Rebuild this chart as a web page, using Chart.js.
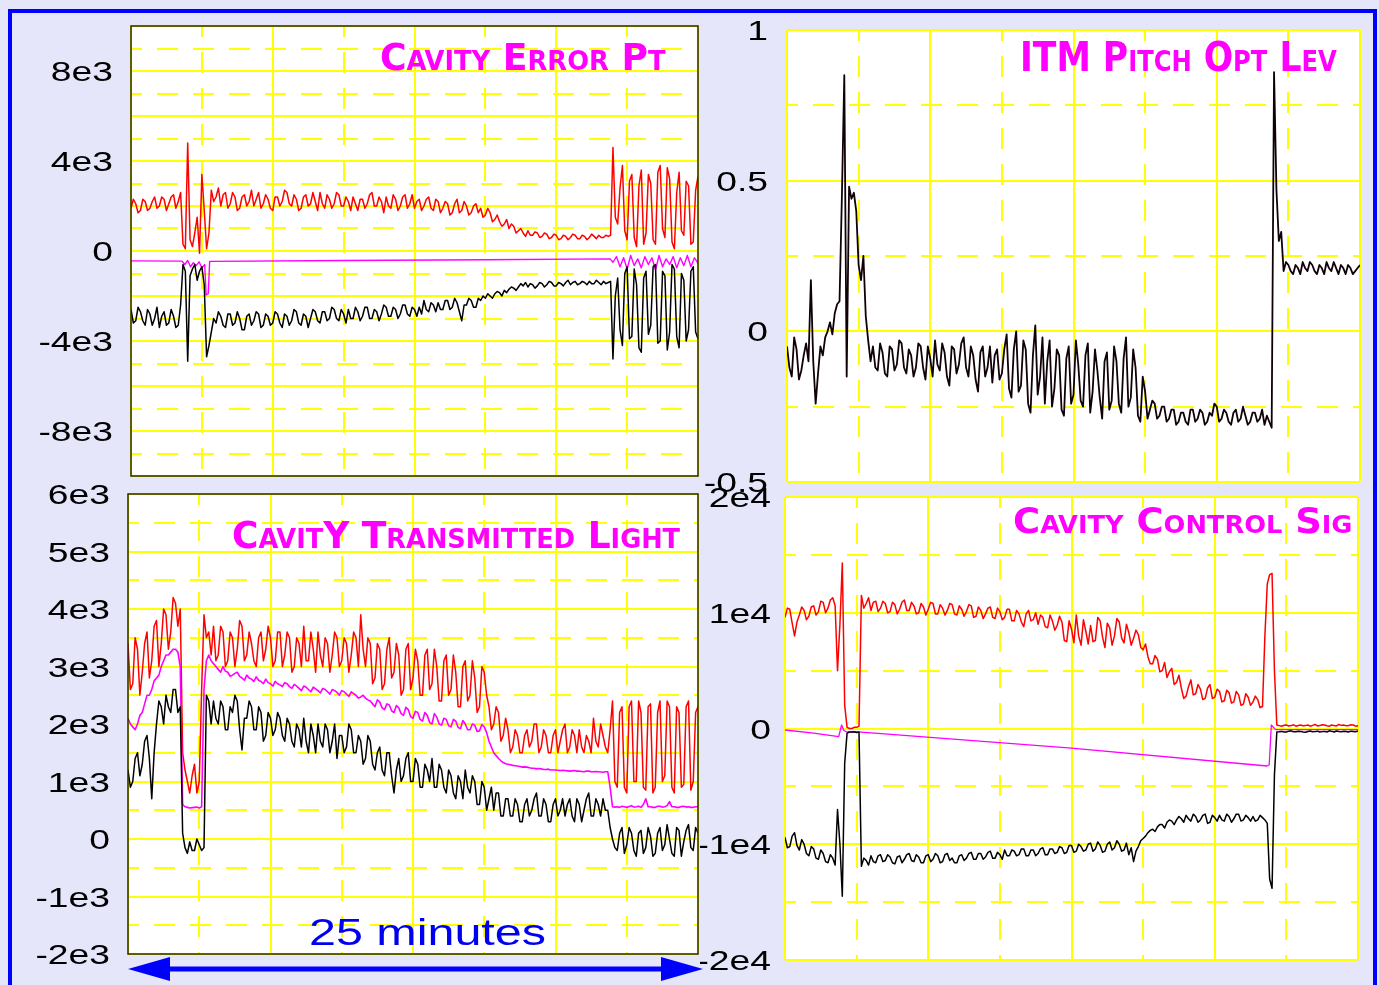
<!DOCTYPE html>
<html>
<head>
<meta charset="utf-8">
<script src="https://cdn.jsdelivr.net/npm/chart.js@4.4.0/dist/chart.umd.min.js"></script>
<style>
  html, body { margin: 0; padding: 0; background: #e6e6fa; }
  body { width: 1379px; height: 985px; position: relative; overflow: hidden; }
  #frame { position: absolute; left: 8px; top: 9px; width: 1361px; height: 1000px; border: 4px solid #0000ff; }
  canvas { position: absolute; }
  .title {
    position: absolute; color: #ff00ff; font-weight: bold; font-variant: small-caps;
    font-family: "Liberation Sans Narrow", "DejaVu Sans Condensed", "DejaVu Sans", sans-serif;
    font-stretch: condensed; white-space: nowrap; line-height: 1; transform-origin: 0 0;
  }
  #minutes {
    position: absolute; left: 309px; top: 914px; color: #0000f0; font-size: 37px; line-height: 1;
    font-family: "Liberation Sans", Arial, sans-serif; white-space: nowrap; transform-origin: 0 0;
  }
  #arrow { position: absolute; left: 0; top: 950px; }
</style>
</head>
<body>
<div id="frame"></div>

<canvas id="errChart" width="720" height="490" style="left:0;top:0"></canvas>
<canvas id="pitchChart" width="679" height="500" style="left:700px;top:0"></canvas>
<canvas id="transChart" width="720" height="507" style="left:0;top:478px"></canvas>
<canvas id="ctrlChart" width="679" height="505" style="left:700px;top:480px"></canvas>

<div class="title" style="left:380px;top:38px;font-size:38px" data-w="286">Cavity Error Pt</div>
<div class="title" style="left:1020px;top:37px;font-size:40px" data-w="317">ITM Pitch Opt Lev</div>
<div class="title" style="left:232px;top:516px;font-size:38px" data-w="448">CavitY Transmitted Light</div>
<div class="title" style="left:1013px;top:503px;font-size:36px" data-w="339">Cavity Control Sig</div>
<div id="minutes" data-w="237">25 minutes</div>

<svg id="arrow" width="720" height="35">
  <line x1="160" y1="19" x2="670" y2="19" stroke="#0000ff" stroke-width="5" />
  <polygon points="128,19 170,7 170,31" fill="#0000ff" />
  <polygon points="703,19 661,7 661,31" fill="#0000ff" />
</svg>

<script>
// ---------- shared time base ----------
const DIVS = 8;             // grid divisions across each panel (25 minutes)
const SAMPLE_STEP = 1 / 30; // 241 samples per noisy trace

// ---------- CAVITY ERROR PT ----------
const errRed = [
  1900, 2300, 2100, 1700, 1800, 2300, 2200, 1800, 1900, 2200, 2400, 1900, 2000, 2400, 2300, 1800, 2100, 2400, 2500, 1900, 2200, 2600,
  300, 100, 4800, 500, 200, 800, 1500, -100, 3400, 1800, 100, 800, 2700, 2200, 2400, 2800,
  2000, 2500, 2600, 1900, 2100, 2600, 2400, 1800, 1900, 2400, 2500, 2000, 2200, 2700, 2000, 2300, 2600, 1900, 2100, 2500,
  2300, 1900, 1800, 2400, 2400, 2000, 2200, 2700, 2600, 2100, 2000, 2500, 2300, 1800, 1900, 2400, 2500, 2000, 2100, 2600,
  2200, 1800, 2600, 2100, 1900, 2500, 2300, 1900, 2100, 2600, 2500, 2000, 2000, 2400, 2200, 1800, 2400, 2100, 1800, 2300,
  2300, 1900, 2100, 2500, 2600, 2000, 2000, 2400, 2200, 1700, 2400, 2000, 1900, 2500, 2300, 1800, 2000, 2400, 2500, 1900,
  2100, 2500, 1900, 2200, 2300, 1800, 2000, 2300, 2400, 1900, 1800, 2300, 2200, 1700, 1900, 2200, 2100, 1600, 1700, 2100,
  2300, 1700, 1800, 2200, 2000, 1600, 1700, 2000, 2100, 1700, 1900, 1500,
  1600, 1900, 1700, 1300, 1400, 1600, 1300, 1100, 1200, 1400, 1000, 1200, 1100, 800, 900, 1000,
  800, 650, 900, 700, 700, 850, 800, 600, 650, 800, 750, 550, 600, 750, 700, 500, 550, 700,
  650, 500, 600, 750, 700, 550, 550, 700, 650, 500, 600, 750, 650, 550, 700, 600, 600, 700,
  650, 700, 4600, 1500,
  1200, 2800, 3800, 900, 500, 3100, 3400, 600, 200, 2900, 3600, 300, 800, 3400, 3000, 500, 300, 3500,
  3800, 1000, 600, 3700, 3200, 400, 100, 2600, 3500, 900, 700, 3100, 2900, 300, 400, 2700, 3300,
];
const errBlack = [
  -2600, -3200, -3100, -2500, -2700, -3100, -3300, -2600, -2800, -3300, -3000, -2500, -3400, -2900, -2700, -3300, -3200, -2600, -2900, -3400, -3300, -2400,
  -600, -900, -4900, -1100, -800, -600, -1300, -900, -700, -1500, -4700, -4200, -3600, -3000, -3200, -2700,
  -2900, -3300, -3400, -2800, -2800, -3300, -3200, -2700, -3000, -3500, -3500, -2900, -2800, -3300, -3100, -2700, -2800, -3400, -3300, -2800,
  -2900, -3300, -3200, -2700, -2800, -3200, -3400, -2800, -2900, -3300, -3100, -2600, -2700, -3200, -3300, -2800, -2900, -3400, -3000, -2600, -2700, -3100, -3200, -2700,
  -2700, -3100, -3000, -2500, -2600, -3000, -3100, -2600, -2800, -3200, -2600, -3000, -3000, -2500, -2700, -3100, -2900, -2500, -2500, -3000,
  -3000, -2600, -2700, -3100, -2800, -2400, -2500, -2900, -2900, -2500, -2600, -3000, -2800, -2400, -2400, -2800, -2900, -2500, -2600, -2900,
  -2500, -2800, -2200, -2600, -2700, -2300, -2400, -2700, -2300, -2600, -2600, -2200, -2200, -2600, -2500, -2100, -2300, -2700, -3100, -2400, -2400, -2100, -2200, -2500, -2500, -2100, -2200, -2000,
  -2100, -1900, -2000, -2100, -1900, -1800, -1850, -2000, -1750, -1850, -1700, -1600, -1650, -1750, -1600, -1450,
  -1550, -1400, -1600, -1450, -1500, -1650, -1550, -1400, -1450, -1600, -1500, -1350, -1400, -1550, -1550, -1400, -1450, -1550,
  -1400, -1300, -1500, -1400, -1350, -1500, -1450, -1350, -1400, -1500, -1350, -1450, -1450, -1300, -1400, -1500, -1350, -1450,
  -1400, -1350, -4800, -2000,
  -1200, -3500, -4200, -1000, -700, -3900, -3800, -800, -1500, -4300, -4500, -1200, -900, -3700, -3300, -700, -600, -4100,
  -4000, -900, -1100, -4400, -3600, -600, -800, -3800, -4300, -1000, -1300, -4000, -3500, -900, -700, -3600, -3900,
];
const errMagX = [
  0, 0.72, 0.76, 0.8, 0.84, 0.88, 0.92, 0.96, 1.0, 1.04, 1.06, 1.09, 1.11, 3, 5, 6.76, 6.8,
  6.85, 6.9, 6.95, 7.0, 7.05, 7.1, 7.15, 7.2, 7.25, 7.3, 7.35, 7.4, 7.45, 7.5, 7.55, 7.6, 7.65, 7.7, 7.75, 7.8, 7.85, 7.9, 7.95, 8,
];
const errMagY = [
  -440, -450, -600, -420, -700, -520, -650, -480, -750, -600, -1950, -1900, -460, -420, -390, -350, -500,
  -250, -700, -300, -800, -200, -650, -350, -750, -250, -600, -300, -850, -200, -700, -350, -600, -250, -750, -300, -650, -200, -700, -300, -550,
];
const errTickVals = [8000, 4000, 0, -4000, -8000];
const errTickText = ["8e3", "4e3", "0", "-4e3", "-8e3"];

// ---------- ITM PITCH OPT LEV ----------
const pitchBlack = [
  -0.05, -0.12, -0.15, -0.02, -0.06, -0.16, -0.13, -0.08, -0.04, -0.1, 0.17, -0.1, -0.24, -0.14, -0.05, -0.08, -0.02, 0.0,
  0.03, -0.01, 0.06, 0.09, 0.1, 0.45, 0.85, -0.15, 0.48, 0.44, 0.46, 0.4, 0.22, 0.17, 0.25, 0.05, -0.03, -0.1,
  -0.05, -0.12, -0.13, -0.04, -0.07, -0.14, -0.15, -0.05, -0.06, -0.13, -0.11, -0.03, -0.04, -0.12, -0.14, -0.06, -0.08, -0.15, -0.12, -0.04,
  -0.05, -0.12, -0.16, -0.05, -0.09, -0.15, -0.03, -0.11, -0.13, -0.04, -0.07, -0.15, -0.18, -0.05, -0.06, -0.14, -0.11, -0.04, -0.02, -0.12,
  -0.15, -0.05, -0.08, -0.16, -0.2, -0.07, -0.05, -0.15, -0.12, -0.05, -0.17, -0.08, -0.06, -0.16, -0.14, -0.06, -0.01, -0.19,
  -0.22, -0.06, 0.0, -0.2, -0.18, -0.03, -0.06, -0.24, -0.27, -0.08, 0.02, -0.21, -0.15, -0.02, -0.24, -0.1, -0.03, -0.25, -0.19, -0.06,
  -0.08, -0.26, -0.28, -0.09, -0.05, -0.24, -0.21, -0.03, -0.11, -0.23, -0.25, -0.08, -0.04, -0.27, -0.2, -0.06, -0.13, -0.22, -0.29, -0.1,
  -0.07, -0.26, -0.23, -0.05, -0.1, -0.24, -0.27, -0.09, -0.02, -0.25, -0.22, -0.06, -0.12, -0.28, -0.3, -0.15,
  -0.2, -0.29, -0.26, -0.23,
  -0.24, -0.29, -0.28, -0.25, -0.25, -0.3, -0.29, -0.26, -0.26, -0.31, -0.3, -0.27, -0.27, -0.3, -0.31, -0.26, -0.26, -0.3, -0.29, -0.26,
  -0.27, -0.31, -0.3, -0.27, -0.28, -0.24, -0.25, -0.3, -0.29, -0.26, -0.27, -0.3, -0.31, -0.27, -0.26, -0.3, -0.29, -0.25, -0.28, -0.31,
  -0.3, -0.27, -0.27, -0.3, -0.29, -0.26, -0.31, -0.28, -0.3, -0.32,
  0.86, 0.47, 0.3, 0.33, 0.2, 0.23,
  0.22, 0.2, 0.19, 0.22, 0.21, 0.19, 0.23, 0.21, 0.2, 0.23, 0.22, 0.2, 0.19, 0.22, 0.21, 0.19,
  0.23, 0.21, 0.2, 0.23, 0.21, 0.19, 0.22, 0.21, 0.19, 0.22, 0.21, 0.19, 0.2, 0.21, 0.22,
];
const pitchTickVals = [1, 0.5, 0, -0.5];
const pitchTickText = ["1", "0.5", "0", "-0.5"];

// ---------- CAVITY TRANSMITTED LIGHT ----------
const transRed = [
  3400, 2600, 2700, 3500, 3300, 2500, 2900, 3400, 3600, 2800, 3100, 3700, 3800, 3000, 3400, 4000, 3900, 3300, 3600, 4200, 4100, 3700,
  4000, 1500, 1200, 1000, 800, 1100, 1300, 800, 1000, 2600, 3900, 3500, 3600, 3200,
  3700, 3100, 3200, 3700, 3600, 3000, 3100, 3600, 3500, 3000, 3300, 3800, 3700, 3100, 3200, 3600, 3400, 3100, 3000, 3500, 3600, 3100, 3300, 3700, 3500, 3000, 3100, 3600,
  3600, 3000, 3200, 3600, 3500, 2900, 3000, 3500, 3400, 3000, 3700, 3100, 3100, 3600, 3300, 2900, 3600, 3200, 3000,
  3500, 3400, 2900, 3200, 3600, 3500, 3000, 3100, 3500, 3400, 2900, 3200, 3600, 3500, 3000, 3900, 3300, 3000, 3500,
  3400, 2700, 2800, 3400, 3300, 2600, 2700, 3300, 3500, 2800, 2900, 3400, 3200, 2500, 2600, 3300, 3400, 2600, 2800, 3300, 3100, 2500, 2500, 3200, 3300,
  2600, 2700, 3300, 3000, 2400, 2400, 3100, 3200, 2500, 2600, 3200, 2900, 2300, 2300, 3000, 3100, 2400, 2500, 3100, 2800, 2200, 2300, 3000, 2900, 2500,
  2300, 1900, 2000, 2300, 2200, 1700, 1800, 2100,
  1900, 1500, 1600, 1900, 1800, 1500, 1500, 1800, 1900, 1600, 1700, 2000, 2000, 1500, 1600, 1900, 1800, 1500, 1500, 1800, 1900, 1500,
  1700, 1900, 2000, 1500, 1600, 1900, 1800, 1500, 1900, 1600, 1500, 1800, 1700, 1500, 2100, 1700, 1600, 2000, 1800, 1600, 1500, 1900,
  2400, 1000,
  900, 2200, 2300, 900, 800, 2300, 2400, 1000, 1000, 2400, 2200, 900, 850, 2300, 2350, 800, 900, 2200,
  2400, 1000, 1100, 2400, 2300, 900, 800, 2300, 2200, 900, 950, 2300, 2400, 850, 1000, 2200, 2300,
];
const transMag = [
  2100, 2000, 1950, 1900, 2000, 2150, 2200, 2350, 2500, 2500, 2600, 2750, 2800, 2850, 3000, 3100, 3200, 3200, 3250, 3300, 3300, 3250,
  3000, 600, 560, 550, 540, 545, 550, 555, 540, 560, 2600, 3100, 3200, 3100,
  3050, 3000, 2950, 2900, 3000, 2920, 2900, 2830, 2850, 2880, 2900, 2830, 2800, 2760, 2850, 2800, 2780, 2740, 2820, 2760, 2740, 2700, 2780, 2720, 2700, 2660, 2740, 2700,
  2680, 2650, 2720, 2700, 2650, 2620, 2690, 2660, 2620, 2580, 2660, 2640, 2600, 2560, 2640, 2610, 2580, 2540, 2620,
  2600, 2560, 2520, 2600, 2580, 2550, 2500, 2580, 2560, 2520, 2480, 2560, 2530, 2500, 2450, 2470, 2500, 2450, 2420,
  2400, 2350, 2300, 2420, 2380, 2280, 2250, 2350, 2330, 2230, 2200, 2320, 2280, 2180, 2150, 2290, 2250, 2130, 2100, 2220, 2200, 2080, 2050, 2200, 2150,
  2030, 2000, 2180, 2120, 2000, 1980, 2100, 2080, 1970, 1950, 2080, 2050, 1940, 1920, 2060, 2000, 1900, 1900, 2000, 1980, 1870, 1880, 1990, 1950, 1850,
  1700, 1600, 1500, 1450, 1400, 1360, 1330, 1310,
  1300, 1290, 1280, 1275, 1270, 1260, 1250, 1255, 1250, 1240, 1230, 1230, 1220, 1225, 1220, 1210, 1210, 1215, 1200, 1200, 1200, 1195,
  1190, 1195, 1190, 1185, 1180, 1185, 1190, 1180, 1180, 1175, 1170, 1180, 1180, 1170, 1170, 1175, 1170, 1165, 1160, 1170, 1170, 900,
  560, 555,
  560, 550, 570, 560, 550, 565, 580, 555, 560, 570, 550, 600, 700, 560, 560, 550, 550, 570,
  570, 555, 560, 580, 650, 560, 560, 550, 550, 565, 570, 555, 560, 550, 550, 560, 560,
];
const transBlack = [
  1200, 900, 1000, 1400, 1500, 1100, 1300, 1700, 1800, 1400, 700, 1500, 2000, 2400, 2300, 2000, 2500, 2300, 2200, 2600, 2600, 2200,
  2300, 100, -150, -250, -50, -200, -200, 0, -100, -200, -150, 2500, 2400, 2000,
  2400, 2100, 2000, 2400, 2300, 1900, 1900, 2300, 2200, 2500, 2400, 1900, 1550, 2100, 2100, 2400, 2300, 1900, 1900, 2300, 2200, 1700, 1800, 2200, 2100, 1800, 1900, 2200,
  2100, 1800, 1700, 2100, 2000, 1700, 1600, 2000, 1900, 1600, 2100, 1700, 1500, 2000, 1800, 1500, 2000, 1700, 1600,
  2000, 1900, 1500, 1700, 2000, 1400, 1800, 1800, 1500, 1600, 2000, 1900, 1500, 1500, 1800, 1700, 1300, 1400, 1800,
  1700, 1300, 1200, 1500, 1600, 1200, 1100, 1500, 1500, 1100, 800, 1200, 1400, 1000, 1100, 1400, 1500, 1000, 1000, 1400, 1300, 900, 900, 1300, 1200,
  1000, 1400, 900, 900, 1300, 1200, 900, 800, 1200, 1100, 800, 700, 1100, 1000, 700, 1200, 900, 800, 1100, 1000, 600, 600, 1000, 900, 500,
  700, 900, 500, 800, 800, 400, 400, 700,
  700, 400, 400, 700, 600, 300, 300, 600, 700, 400, 500, 700, 800, 400, 400, 700, 600, 300, 300, 600, 700, 400,
  500, 700, 400, 600, 700, 400, 300, 700, 600, 300, 500, 700, 800, 400, 400, 700, 600, 400, 700, 500, 500, 200,
  0, -150,
  -200, 100, 200, -250, -100, 200, 100, -200, -300, 100, 150, -250, -150, 200, 50, -300, -250, 100,
  200, -200, -100, 250, 0, -250, -300, 200, 150, -300, -50, 150, 250, -150, -200, 200, 100,
];
const transTickVals = [6000, 5000, 4000, 3000, 2000, 1000, 0, -1000, -2000];
const transTickText = ["6e3", "5e3", "4e3", "3e3", "2e3", "1e3", "0", "-1e3", "-2e3"];

// ---------- CAVITY CONTROL SIG ----------
const ctrlRed = [
  9600, 10400, 10300, 9100, 8000, 9200, 9800, 10500, 10200, 9400, 9700, 10500, 10600, 9800, 10100, 11000, 10900, 10000, 10400, 11100, 11300, 10600,
  5000, 9000, 14300, 2000, 100, 0, 0, 100, 100, 200, 11500, 10400, 10800, 11300,
  10200, 10900, 11000, 10100, 10400, 11000, 10800, 10000, 10100, 10900, 10700, 9900, 10300, 10900, 11100, 10200, 10200, 10900, 10600, 9900,
  10000, 10800, 10500, 9800, 10300, 10900, 10800, 9900, 9900, 10700, 10400, 9800, 10200, 10800, 10700, 9900, 9800, 10600, 10300, 9700,
  10100, 10700, 10600, 9600, 9700, 10500, 10200, 9500, 9900, 10400, 10500, 9600, 9500, 10400, 10100, 9400, 9600, 10300, 10300, 9300,
  9300, 10200, 9900, 9200, 8800, 9900, 10200, 9300, 9400, 10000, 9000, 9800, 9600, 8800, 8700, 9800, 9300, 8500, 8900, 9700,
  9200, 7600, 7500, 9300, 8600, 7400, 9800, 8000, 7200, 9400, 8400, 7300, 8900, 7500, 7600, 9600,
  9300, 7900, 7000, 9100, 8700, 7200, 8000, 9500, 9200, 7800, 7400, 9000, 8300, 7200, 7800, 8500,
  8100, 7000, 6800, 7300, 6200, 5600, 5600, 6300, 6000, 4900, 5000, 5700, 4400, 4900, 5200, 3800, 4000, 4600,
  3500, 2600, 2800, 3600, 4200, 2900, 3000, 3800, 3400, 2500, 2600, 3500, 3800, 2600, 2700, 3400, 3200, 2300,
  2400, 3300, 3100, 2200, 2300, 3200, 2900, 2000, 2100, 3000, 2700, 2000, 2300, 2800, 2500, 1800, 1900, 8000,
  12500, 13300, 13400, 5000, 300, 250,
  200, 280, 300, 220, 250, 320, 200, 260, 300, 230, 250, 300, 200, 270, 350, 220, 250,
  330, 300, 240, 200, 300, 250, 220, 350, 270, 300, 230, 250, 320, 300, 200, 250,
];
const ctrlBlack = [
  -9400, -10300, -10200, -9300, -9000, -10100, -10500, -9600, -10000, -10800, -11000, -10200, -10400, -11200, -11300, -10500, -10800, -11500, -11600, -10900, -11200, -11800,
  -7000, -10000, -14500, -3000, -400, -300, -300, -280, -350, -300, -11900, -11200, -11400, -11800,
  -11000, -11500, -11600, -11000, -10900, -11500, -11400, -10900, -11100, -11600, -11700, -11100, -11000, -11600, -11300, -10900, -10800, -11400, -11500, -10900,
  -11100, -11600, -11600, -11000, -10900, -11500, -11300, -10800, -11000, -11600, -11500, -10900, -10800, -11400, -11200, -11600, -11600, -11000, -10900, -11400,
  -11200, -10800, -10700, -11300, -11300, -10800, -10800, -11300, -11100, -10700, -10600, -11200, -11200, -10700, -10900, -11300, -10500, -11000, -11000, -10500,
  -10600, -11000, -10900, -10400, -10400, -11000, -11000, -10500, -10500, -11000, -10800, -10400, -10300, -10900, -10900, -10400, -10400, -10800, -10700, -10200,
  -10300, -10800, -10700, -10100, -10100, -10700, -10600, -10000, -10200, -10600, -10500, -10000, -9900, -10600, -10400, -9800,
  -10100, -10700, -10600, -10000, -9800, -10500, -10300, -9700, -10000, -10600, -10500, -9900, -10900, -10300, -11500, -10600,
  -10200, -9700, -9500, -9300, -9000, -8800, -8700, -8900, -8500, -8300, -8300, -8600, -8100, -7900, -8000, -8300, -7900, -7600,
  -7800, -8100, -7500, -7800, -8000, -7400, -7600, -8100, -7900, -7500, -7400, -8200, -8100, -7500, -7700, -8000, -7500, -7900,
  -8000, -7400, -7600, -8100, -7800, -7400, -7400, -8000, -7900, -7500, -7700, -8000, -7600, -8000, -7900, -7500, -7700, -7900,
  -8200, -13000, -13800, -4000, -300, -280,
  -250, -300, -300, -230, -200, -290, -280, -240, -250, -300, -320, -260, -220, -290, -270, -230, -300,
  -270, -250, -300, -200, -250, -300, -220, -260, -290, -240, -260, -300, -230, -250, -280, -220,
];
const ctrlMagX = [0, 0.4, 0.75, 0.79, 0.82, 0.86, 1.02, 4.0, 6.73, 6.76, 6.79, 6.85, 8];
const ctrlMagY = [-130, -400, -700, 300, -150, -300, -300, -1700, -3240, -3150, 300, -100, -100];
const ctrlTickVals = [20000, 10000, 0, -10000, -20000];
const ctrlTickText = ["2e4", "1e4", "0", "-1e4", "-2e4"];

// ---------- HELPERS ----------
const series = (vals) => vals.map((v, i) => ({ x: i * SAMPLE_STEP, y: v }));
const pairs = (xs, ys) => xs.map((x, i) => ({ x, y: ys[i] }));
const trace = (data, color, width) => ({
  data, borderColor: color, borderWidth: width, borderJoinStyle: "round", pointRadius: 0, tension: 0,
});

const panelDeco = {
  id: "panelDeco",
  beforeDraw(chart) {
    const { ctx, chartArea: a } = chart;
    ctx.save();
    ctx.fillStyle = "#ffffff";
    ctx.fillRect(a.left, a.top, a.right - a.left, a.bottom - a.top);
    ctx.restore();
  },
  afterDraw(chart, args, opts) {
    const { ctx, chartArea: a } = chart;
    const y = chart.scales.y;
    ctx.save();
    if (opts.frame) {
      ctx.strokeStyle = opts.frame;
      ctx.lineWidth = 1.5;
      ctx.strokeRect(a.left, a.top, a.right - a.left, a.bottom - a.top);
    }
    ctx.fillStyle = "#000000";
    ctx.font = '28px "Liberation Sans", Arial, sans-serif';
    ctx.textAlign = "right";
    ctx.textBaseline = "alphabetic";
    opts.values.forEach((v, i) => {
      ctx.save();
      ctx.translate(a.left - opts.gap, y.getPixelForValue(v) + 10);
      ctx.scale(1.33, 1);
      ctx.fillText(opts.labels[i], 0, 0);
      ctx.restore();
    });
    ctx.restore();
  },
};

function axis(min, max, step) {
  return {
    type: "linear",
    min, max,
    ticks: { display: false, stepSize: step },
    grid: { color: "#ffff00", lineWidth: 2, drawTicks: false },
    border: {
      display: false,
      dash: (c) => (c.tick && Math.round(c.tick.value / step) % 2 !== 0 ? [21, 15] : []),
      dashOffset: 10,
    },
    afterFit: (s) => {
      if (s.isHorizontal()) s.height = 0;
      else s.width = 0;
    },
  };
}

function makeChart(id, padding, yMin, yMax, yStep, datasets, deco) {
  return new Chart(document.getElementById(id), {
    type: "line",
    data: { datasets },
    options: {
      responsive: false,
      animation: false,
      events: [],
      layout: { padding },
      plugins: { legend: { display: false }, tooltip: { enabled: false }, panelDeco: deco },
      scales: { x: axis(0, DIVS, 1), y: axis(yMin, yMax, yStep) },
    },
    plugins: [panelDeco],
  });
}

// ---------- CHARTS ----------
makeChart("errChart", { left: 131, top: 26, right: 22, bottom: 14 }, -10000, 10000, 1000, [
  trace(series(errBlack), "#000000", 1.5),
  trace(pairs(errMagX, errMagY), "#ff00ff", 1.4),
  trace(series(errRed), "#ff0000", 1.5),
], { frame: "#2a2a00", gap: 18, values: errTickVals, labels: errTickText });

makeChart("pitchChart", { left: 87, top: 30, right: 19, bottom: 18 }, -0.5, 1, 0.25, [
  trace(series(pitchBlack), "#100008", 1.8),
], { frame: null, gap: 19, values: pitchTickVals, labels: pitchTickText });

makeChart("transChart", { left: 128, top: 16, right: 22, bottom: 31 }, -2000, 6000, 500, [
  trace(series(transBlack), "#000000", 1.5),
  trace(series(transMag), "#ff00ff", 1.6),
  trace(series(transRed), "#ff0000", 1.5),
], { frame: "#2a2a00", gap: 18, values: transTickVals, labels: transTickText });

makeChart("ctrlChart", { left: 85, top: 17, right: 21, bottom: 25 }, -20000, 20000, 5000, [
  trace(series(ctrlBlack), "#000000", 1.5),
  trace(pairs(ctrlMagX, ctrlMagY), "#ff00ff", 1.3),
  trace(series(ctrlRed), "#ff0000", 1.5),
], { frame: null, gap: 14, values: ctrlTickVals, labels: ctrlTickText });

// ---------- stretch the overlay texts to the widths of the original ----------
document.querySelectorAll(".title, #minutes").forEach((el) => {
  el.style.display = "inline-block";
  const w = +el.dataset.w;
  el.style.transform = `scaleX(${w / el.offsetWidth})`;
});
</script>
</body>
</html>
